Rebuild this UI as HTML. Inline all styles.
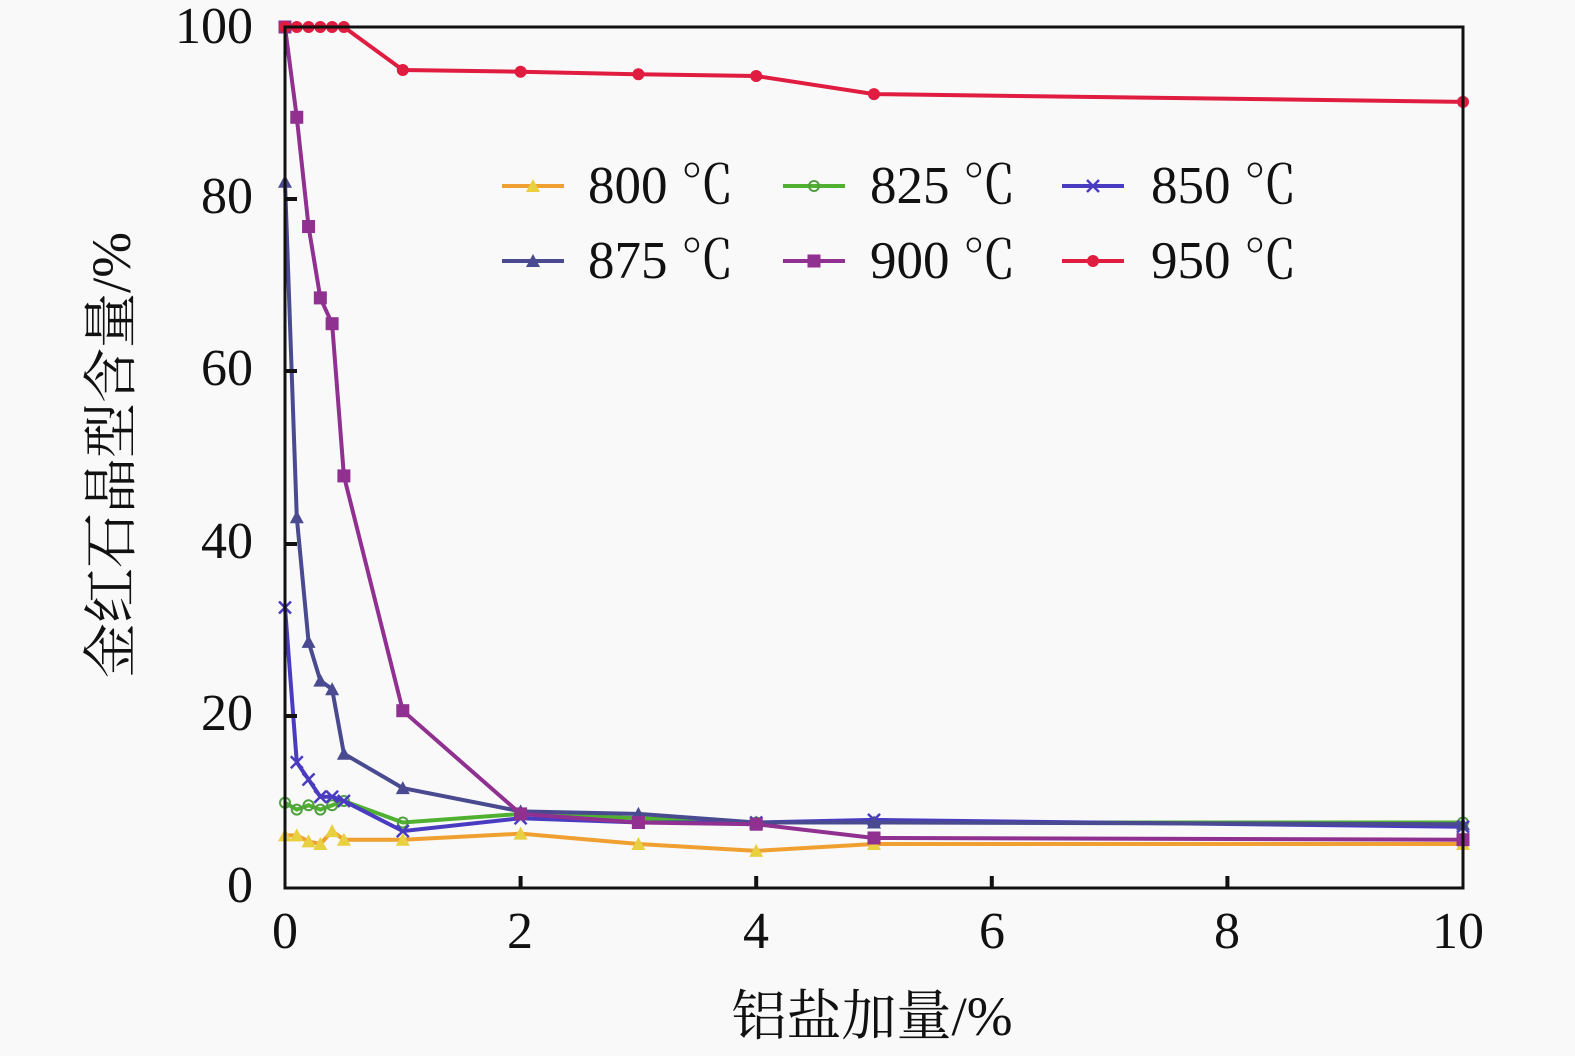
<!DOCTYPE html>
<html><head><meta charset="utf-8"><style>
html,body{margin:0;padding:0;background:#f9f9f9;}
svg{display:block;}
text{font-family:"Liberation Serif","Noto Serif CJK SC",serif;fill:#111;}
</style></head><body>
<svg id="s" width="1575" height="1056" viewBox="0 0 1575 1056" xmlns="http://www.w3.org/2000/svg">
<rect width="1575" height="1056" fill="#f9f9f9"/>
<g id="data"></g>
<rect x="285" y="27" width="1178" height="861" fill="none" stroke="#111" stroke-width="3"/>
<g stroke="#111" stroke-width="4">
<line x1="520.6" y1="888" x2="520.6" y2="876"/><line x1="756.2" y1="888" x2="756.2" y2="876"/>
<line x1="991.8" y1="888" x2="991.8" y2="876"/><line x1="1227.4" y1="888" x2="1227.4" y2="876"/>
<line x1="285" y1="716" x2="297" y2="716"/><line x1="285" y1="544" x2="297" y2="544"/>
<line x1="285" y1="371" x2="297" y2="371"/><line x1="285" y1="199" x2="297" y2="199"/>
</g>
<g font-size="52" text-anchor="end">
<text x="253" y="902">0</text><text x="253" y="730">20</text><text x="253" y="558">40</text>
<text x="253" y="385">60</text><text x="253" y="213">80</text><text x="253" y="43">100</text>
</g>
<g font-size="52" text-anchor="middle">
<text x="285" y="948">0</text><text x="520" y="948">2</text><text x="756" y="948">4</text>
<text x="992" y="948">6</text><text x="1227" y="948">8</text><text x="1458" y="948">10</text>
</g>
<text x="872" y="1035" font-size="55" text-anchor="middle">铝盐加量/%</text>
<text transform="translate(130,455) rotate(-90)" font-size="55" text-anchor="middle">金红石晶型含量/%</text>
<g font-size="53">
<text x="588" y="203">800 ℃</text><text x="870" y="203">825 ℃</text><text x="1151" y="203">850 ℃</text>
<text x="588" y="278">875 ℃</text><text x="870" y="278">900 ℃</text><text x="1151" y="278">950 ℃</text>
</g>
<g id="leg"></g>
</svg>
<script>
var X=[0,0.1,0.2,0.3,0.4,0.5,1,2,3,4,5,10];
var S=[
{c:"#f0a030",m:"#e8d040",t:"tri",d:[6,6,5.3,5,6.5,5.5,5.5,6.2,5,4.2,5,5],lx:502,ly:186},
{c:"#50b030",m:"#50a040",t:"circ",d:[9.8,9,9.5,9,9.5,10,7.5,8.5,8,7.5,7.5,7.5],lx:783,ly:186},
{c:"#4a3cc0",m:"#4a3cc0",t:"x",d:[32.5,14.5,12.5,10.5,10.5,10,6.5,8,7.5,7.5,7.8,7],lx:1062,ly:186},
{c:"#4a4a90",m:"#4a4a90",t:"tri",d:[82,43,28.5,24,23,15.5,11.5,8.8,8.5,7.5,7.5,7.3],lx:502,ly:261},
{c:"#903090",m:"#903090",t:"sq",d:[100,89.5,76.8,68.5,65.5,47.8,20.5,8.5,7.5,7.3,5.7,5.5],lx:783,ly:261},
{c:"#e01c40",m:"#e01c40",t:"circf",d:[100,100,100,100,100,100,95,94.8,94.5,94.3,92.2,91.3],lx:1062,ly:261}];
function px(x){return 285+x*117.8;}function py(y){return 887-y*8.6;}
function mk(t,x,y,col){
 if(t=="tri")return '<polygon points="'+x+','+(y-7)+' '+(x-7)+','+(y+6)+' '+(x+7)+','+(y+6)+'" fill="'+col+'"/>';
 if(t=="circ")return '<circle cx="'+x+'" cy="'+y+'" r="5" fill="none" stroke="'+col+'" stroke-width="2"/>';
 if(t=="circf")return '<circle cx="'+x+'" cy="'+y+'" r="6" fill="'+col+'"/>';
 if(t=="sq")return '<rect x="'+(x-6.5)+'" y="'+(y-6.5)+'" width="13" height="13" fill="'+col+'"/>';
 return '<path d="M'+(x-6)+' '+(y-6)+'L'+(x+6)+' '+(y+6)+'M'+(x+6)+' '+(y-6)+'L'+(x-6)+' '+(y+6)+'" stroke="'+col+'" stroke-width="2.5"/>';
}
var h='',l='';
S.forEach(function(s){
 var p=X.map(function(x,i){return px(x)+','+py(s.d[i]);}).join(' ');
 h+='<polyline points="'+p+'" fill="none" stroke="'+s.c+'" stroke-width="4"/>';
 X.forEach(function(x,i){h+=mk(s.t,px(x),py(s.d[i]),s.m);});
 l+='<line x1="'+s.lx+'" y1="'+s.ly+'" x2="'+(s.lx+62)+'" y2="'+s.ly+'" stroke="'+s.c+'" stroke-width="4"/>'+mk(s.t,s.lx+31,s.ly,s.m);
});
document.getElementById('data').innerHTML=h;document.getElementById('leg').innerHTML=l;
</script>
</body></html>
